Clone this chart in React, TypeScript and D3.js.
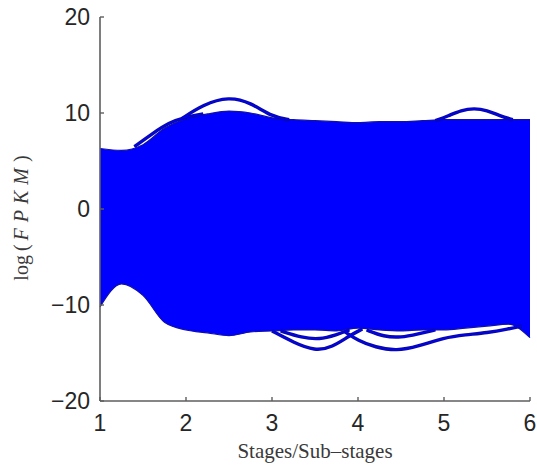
import React, { useEffect, useRef } from 'react';
import * as d3 from 'd3';

// stages sampled along the x axis
const stages = [1, 1.25, 1.5, 1.75, 2, 2.25, 2.5, 2.75, 3, 3.25, 3.5, 3.75, 4, 4.25, 4.5, 4.75, 5, 5.25, 5.5, 5.75, 6];

// top and bottom of the dense bundle of genes
const upperEnvelope = [6.3, 6.1, 6.7, 8.4, 9.4, 9.9, 10.2, 10.0, 9.5, 9.3, 9.2, 9.1, 9.0, 9.1, 9.1, 9.2, 9.3, 9.3, 9.3, 9.3, 9.3];
const lowerEnvelope = [-10.2, -7.8, -9.0, -11.8, -12.6, -12.9, -13.2, -12.8, -12.7, -12.6, -12.6, -12.7, -12.4, -12.6, -12.7, -12.6, -12.6, -12.4, -12.2, -12.0, -13.4];

// genes that stick out of the bundle: [stage, log(FPKM)]
const outlierTop1 = [[1.4, 6.5], [1.6, 7.8], [1.8, 9.0], [2.0, 9.6], [2.2, 9.9]];
const outlierTop2 = [[1.95, 9.4], [2.2, 10.9], [2.5, 11.7], [2.75, 11.1], [3.0, 9.6], [3.2, 9.3]];
const outlierTop3 = [[4.9, 9.2], [5.05, 9.7], [5.2, 10.3], [5.35, 10.5], [5.5, 10.3], [5.65, 9.7], [5.8, 9.3]];
const outlierLow1 = [[3.0, -12.7], [3.25, -13.9], [3.5, -14.8], [3.7, -14.4], [3.9, -13.2], [4.05, -12.5]];
const outlierLow2 = [[3.1, -12.7], [3.35, -13.4], [3.55, -13.6], [3.75, -13.1], [3.9, -12.6]];
const outlierLow3 = [[3.85, -12.8], [4.0, -13.7], [4.2, -14.4], [4.45, -14.8], [4.7, -14.3], [5.0, -13.4], [5.25, -13.1], [5.5, -12.9], [5.75, -12.5], [5.9, -12.2]];
const outlierLow4 = [[4.1, -12.6], [4.3, -13.3], [4.5, -13.4], [4.7, -13.0], [4.9, -12.6]];

const xTicks = [1, 2, 3, 4, 5, 6];
const yTicks = [-20, -10, 0, 10, 20];

const App = () => {
  const ref = useRef<SVGSVGElement>(null);

  useEffect(() => {
    document.body.style.margin = '0';
    const svg = d3.select(ref.current);
    svg.selectAll('*').remove();

    const left = 100, right = 530, top = 17, bottom = 401;

    const x = d3.scaleLinear().domain([1, 6]).range([left, right]);
    const y = d3.scaleLinear().domain([-20, 20]).range([bottom, top]);

    const band = stages.map((s, i) => ({ s, hi: upperEnvelope[i], lo: lowerEnvelope[i] }));

    // the filled bundle
    svg.append('path')
      .datum(band)
      .attr('fill', '#0000ff')
      .attr('d', d3.area<any>()
        .x(d => x(d.s))
        .y0(d => y(d.lo))
        .y1(d => y(d.hi))
        .curve(d3.curveMonotoneX));

    // darker edges of the bundle
    const edge = (key: 'hi' | 'lo') => d3.line<any>()
      .x(d => x(d.s))
      .y(d => y(d[key]))
      .curve(d3.curveMonotoneX);
    svg.append('path').datum(band).attr('fill', 'none')
      .attr('stroke', '#1010a8').attr('stroke-width', 1.2).attr('d', edge('hi'));
    svg.append('path').datum(band).attr('fill', 'none')
      .attr('stroke', '#1010a8').attr('stroke-width', 1.2).attr('d', edge('lo'));

    const line = d3.line<number[]>()
      .x(d => x(d[0]))
      .y(d => y(d[1]))
      .curve(d3.curveBasis);

    const outliers = [outlierTop1, outlierTop2, outlierTop3, outlierLow1, outlierLow2, outlierLow3, outlierLow4];
    svg.selectAll('.outlier')
      .data(outliers)
      .enter()
      .append('path')
      .attr('class', 'outlier')
      .attr('fill', 'none')
      .attr('stroke', '#0a0a9c')
      .attr('stroke-width', 3.4)
      .attr('d', d => line(d as number[][]));
    svg.selectAll('.outlier-core')
      .data(outliers)
      .enter()
      .append('path')
      .attr('class', 'outlier-core')
      .attr('fill', 'none')
      .attr('stroke', '#0000ff')
      .attr('stroke-width', 1.2)
      .attr('d', d => line(d as number[][]));

    // axes, MATLAB style: box off, ticks pointing in
    const axisColor = '#5e5e5e';
    svg.append('line')
      .attr('x1', left).attr('x2', right).attr('y1', bottom).attr('y2', bottom)
      .attr('stroke', axisColor).attr('stroke-width', 1.6);
    svg.append('line')
      .attr('x1', left).attr('x2', left).attr('y1', top).attr('y2', bottom)
      .attr('stroke', axisColor).attr('stroke-width', 1.6);

    svg.selectAll('.xtick').data(xTicks).enter().append('line')
      .attr('x1', d => x(d)).attr('x2', d => x(d))
      .attr('y1', bottom).attr('y2', bottom - 4)
      .attr('stroke', axisColor).attr('stroke-width', 1.4);
    svg.selectAll('.ytick').data(yTicks).enter().append('line')
      .attr('x1', left).attr('x2', left + 4)
      .attr('y1', d => y(d)).attr('y2', d => y(d))
      .attr('stroke', axisColor).attr('stroke-width', 1.4);

    const fmt = (v: number) => (v < 0 ? '\u2212' + Math.abs(v) : String(v));

    svg.selectAll('.xlabel').data(xTicks).enter().append('text')
      .attr('x', d => x(d))
      .attr('y', bottom + 30)
      .attr('text-anchor', 'middle')
      .attr('font-family', '"Liberation Sans", Arial, sans-serif')
      .attr('font-size', 23)
      .attr('fill', '#262626')
      .text(d => fmt(d));

    svg.selectAll('.ylabel').data(yTicks).enter().append('text')
      .attr('x', left - 10)
      .attr('y', d => y(d))
      .attr('dy', '0.36em')
      .attr('text-anchor', 'end')
      .attr('font-family', '"Liberation Sans", Arial, sans-serif')
      .attr('font-size', 23)
      .attr('fill', '#262626')
      .text(d => fmt(d));

    // axis titles
    svg.append('text')
      .attr('x', (left + right) / 2)
      .attr('y', 458)
      .attr('text-anchor', 'middle')
      .attr('font-family', '"Liberation Serif", "Times New Roman", serif')
      .attr('font-size', 21)
      .attr('fill', '#3a3a3a')
      .text('Stages/Sub\u2013stages');

    const yTitle = svg.append('text')
      .attr('transform', `translate(28, ${218}) rotate(-90)`)
      .attr('text-anchor', 'middle')
      .attr('font-family', '"Liberation Serif", "Times New Roman", serif')
      .attr('font-size', 20)
      .attr('fill', '#3a3a3a');
    yTitle.append('tspan').text('log\u2009(\u2009');
    yTitle.append('tspan').attr('font-style', 'italic').attr('letter-spacing', 6).text('FPKM');
    yTitle.append('tspan').text(')');
  }, []);

  return <svg ref={ref} width={537} height={469} style={{ display: 'block', background: '#fff' }} />;
};

export default App;
